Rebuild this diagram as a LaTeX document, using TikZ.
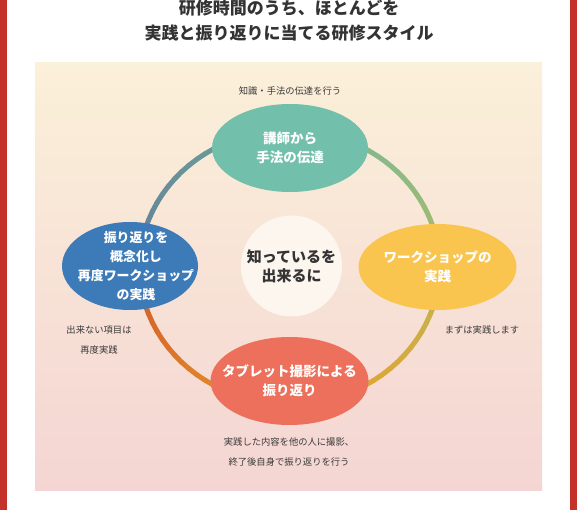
\documentclass[tikz,border=0pt]{standalone}
\usepackage{fontspec}
\setmainfont{Noto Sans CJK JP}
\usetikzlibrary{shapes.geometric,calc}
\definecolor{redbar}{HTML}{C4312B}
\definecolor{bgtop}{HTML}{FBF0D9}
\definecolor{bgbot}{HTML}{F4D5D3}
\definecolor{titlec}{HTML}{333333}
\definecolor{labc}{HTML}{3A3A3A}
\definecolor{cteal}{HTML}{72BFAC}
\definecolor{cblue}{HTML}{3D7BB8}
\definecolor{cyellow}{HTML}{F9C54F}
\definecolor{ccoral}{HTML}{EC705B}
\definecolor{ccenter}{HTML}{FDF6EF}
% ring colours by angle (image coordinates, clockwise from east)
\definecolor{r0}{HTML}{AEB763}
\definecolor{r20}{HTML}{C8B04A}
\definecolor{r60}{HTML}{DDA734}
\definecolor{r90}{HTML}{E3972E}
\definecolor{r120}{HTML}{E0872C}
\definecolor{r160}{HTML}{D6672A}
\definecolor{r180}{HTML}{A07468}
\definecolor{r200}{HTML}{66889A}
\definecolor{r240}{HTML}{6A9898}
\definecolor{r270}{HTML}{72AE9F}
\definecolor{r310}{HTML}{88BA88}
\definecolor{r340}{HTML}{9DBA76}
\tikzset{
  ring/.style={line width=5pt, line cap=round},
  bub/.style={ellipse, inner sep=0pt},
  bubtxt/.style={text=white, align=center, inner sep=0pt,
    font=\bfseries\fontsize{13.5}{19}\selectfont},
  lab/.style={text=labc, align=center, font=\fontsize{9.3}{19.5}\selectfont},
  ttl/.style={text=titlec, align=center, font=\bfseries\fontsize{17}{25}\selectfont}
}
\newcommand\ringseg[4]{%
  \foreach \i in {0,...,9}{%
    \pgfmathsetmacro\ta{#1+(#2-#1)*\i/10}%
    \pgfmathsetmacro\tb{#1+(#2-#1)*(\i+1)/10}%
    \pgfmathtruncatemacro\pp{95-\i*10}%
    \draw[ring, color=#3!\pp!#4] ($(ctr)+({150*cos(\ta)},{137*sin(\ta)})$) -- ($(ctr)+({150*cos(\tb)},{137*sin(\tb)})$);
  }}
\begin{document}
\begin{tikzpicture}[x=1pt,y=-1pt]
\useasboundingbox (0,0) rectangle (577,510);
\fill[white] (0,0) rectangle (577,510);
\fill[redbar] (0,0) rectangle (7,510);
\fill[redbar] (570,0) rectangle (577,510);
\shade[top color=bgtop, bottom color=bgbot] (35,63) rectangle (542,490);
\node[ttl] (t1) at (289,8) {研修時間のうち、ほとんどを};
\node[ttl] (t2) at (289,33) {実践と振り返りに当てる研修スタイル};
\coordinate (ctr) at (289.5,267);
\ringseg{0}{20}{r0}{r20}
\ringseg{20}{60}{r20}{r60}
\ringseg{60}{90}{r60}{r90}
\ringseg{90}{120}{r90}{r120}
\ringseg{120}{160}{r120}{r160}
\ringseg{160}{180}{r160}{r180}
\ringseg{180}{200}{r180}{r200}
\ringseg{200}{240}{r200}{r240}
\ringseg{240}{270}{r240}{r270}
\ringseg{270}{310}{r270}{r310}
\ringseg{310}{340}{r310}{r340}
\ringseg{340}{360}{r340}{r0}
\node[bub, fill=cteal, minimum width=156pt, minimum height=88pt] (top) at (290,148) {};
\node[bubtxt] at (top) {講師から\\手法の伝達};
\node[bub, fill=cyellow, minimum width=158pt, minimum height=86pt] (right) at (437.5,267) {};
\node[bubtxt] at (right) {ワークショップの\\実践};
\node[bub, fill=ccoral, minimum width=158pt, minimum height=88pt] (bottom) at (289.5,381) {};
\node[bubtxt] at (bottom) {タブレット撮影による\\振り返り};
\node[bub, fill=cblue, minimum width=136pt, minimum height=88pt] (left) at (130,266) {};
\node[bubtxt, font=\bfseries\fontsize{12.9}{19}\selectfont] at ([xshift=6pt]left.center) {振り返りを\\概念化し\\再度ワークショップ\\の実践};
\node[circle, fill=ccenter, minimum size=101pt, inner sep=0pt] (mid) at (291.5,266) {};
\node[text=titlec, align=center, inner sep=0pt,
  font=\bfseries\fontsize{15}{19}\selectfont] at (mid) {知っているを\\出来るに};
\node[lab] (ltop) at (290,91) {知識・手法の伝達を行う};
\node[lab] (lright) at (482,330) {まずは実践します};
\node[lab] (lleft) at (99,340) {出来ない項目は\\再度実践};
\node[lab] (lbot) at (289,452) {実践した内容を他の人に撮影、\\終了後自身で振り返りを行う};
\end{tikzpicture}
\end{document}
